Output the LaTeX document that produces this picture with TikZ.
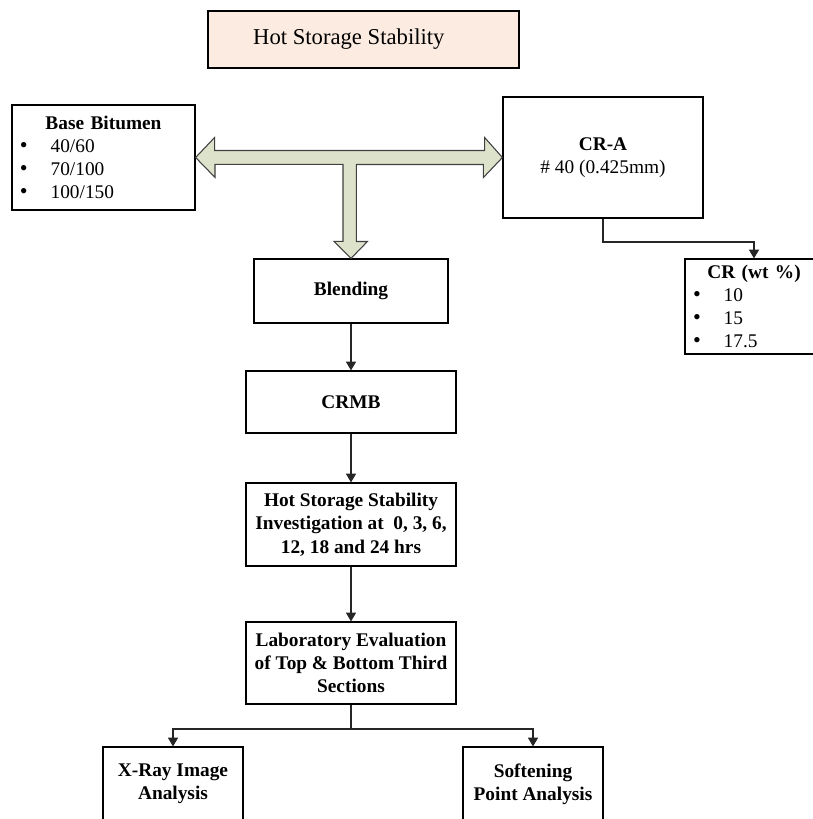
\documentclass[tikz,border=0pt]{standalone}
\usepackage{fontspec}
\usepackage{graphicx}
\setmainfont{Liberation Serif}
\usetikzlibrary{arrows.meta}
\definecolor{peach}{HTML}{FCEBE0}
\definecolor{sage}{HTML}{DDE2CB}
\newcommand{\itm}[1]{\makebox[23pt][l]{\scalebox{1.15}{\textbullet}}#1}
\begin{document}
\begin{tikzpicture}
    [x=0.75pt,y=-0.75pt,
     box/.style={draw,line width=0.9pt,inner sep=0pt,align=center,
       font=\fontsize{14.5}{17.5}\selectfont\bfseries},
     listbox/.style={draw,line width=0.9pt,inner ysep=0pt,inner xsep=6pt,align=left,
       font=\fontsize{14.5}{17.3}\selectfont},
     link/.style={line width=0.8pt,draw=black!85,-{Triangle[length=6.5pt,width=7.5pt]}},
     bigarrow/.style={draw=black!75,line width=0.8pt,fill=sage,line join=miter}]
    \useasboundingbox (0,0) rectangle (813,819);
    \clip (0,0) rectangle (813,819);
    \node (title) at (363.5, 39.5) [box,fill=peach,minimum width=233.25pt,minimum height=42.75pt,
      font=\fontsize{17}{20}\selectfont] {Hot Storage Stability\hspace*{22pt}};
    \node (base) at (103.5, 157.5) [listbox,minimum height=78.75pt,text width=125.25pt]
      {\centerline{\bfseries Base Bitumen}\\ \itm{40/60}\\ \itm{70/100}\\ \itm{100/150}};
    \node (cra) at (603, 157.5) [box,minimum width=150pt,minimum height=90.75pt]
      {CR-A\\ \mdseries \# 40 (0.425mm)};
    \node (crwt) at (754, 306.5) [listbox,minimum height=71.25pt,text width=91.5pt]
      {\centerline{\bfseries CR (wt \%)}\\ \itm{10}\\ \itm{15}\\ \itm{17.5}};
    \node (blend) at (351, 291) [box,minimum width=145.5pt,minimum height=48pt] {Blending};
    \node (crmb) at (351, 402) [box,minimum width=157.5pt,minimum height=46.5pt] {CRMB};
    \node (hot) at (351, 524.5) [box,minimum width=157.5pt,minimum height=62.25pt]
      {Hot Storage Stability\\ Investigation at\enspace 0, 3, 6,\\ 12, 18 and 24 hrs};
    \node (lab) at (351, 663) [box,minimum width=157.5pt,minimum height=61.5pt]
      {Laboratory Evaluation\\ of Top \& Bottom Third\\ Sections};
    \node (xray) at (173, 784) [box,minimum width=105pt,minimum height=55.5pt]
      {X-Ray Image\\ Analysis};
    \node (soft) at (533, 784) [box,minimum width=105pt,minimum height=55.5pt]
      {Softening\\ Point Analysis};
    \coordinate (bend) at (603, 242);
    \coordinate (split) at (351, 729);
    \draw [bigarrow] (base.east) -- ++(19,-20) -- ++(0,13) -- ++(270,0) -- ++(0,-13)
      -- (cra.west) -- ++(-19,20) -- ++(0,-13) -- ++(-127,0) -- ++(0,77) -- ++(11,0)
      -- (blend.north) -- ++(-17,-17) -- ++(9,0) -- ++(0,-77) -- ++(-128,0) -- ++(0,13) -- cycle;
    \draw [link] (cra.south) -- (bend) -| (crwt.north);
    \draw [link] (blend) to (crmb);
    \draw [link] (crmb) to (hot);
    \draw [link] (hot) to (lab);
    \draw [link] (lab.south) -- (split) -| (xray.north);
    \draw [link] (split) -| (soft.north);
\end{tikzpicture}
\end{document}
